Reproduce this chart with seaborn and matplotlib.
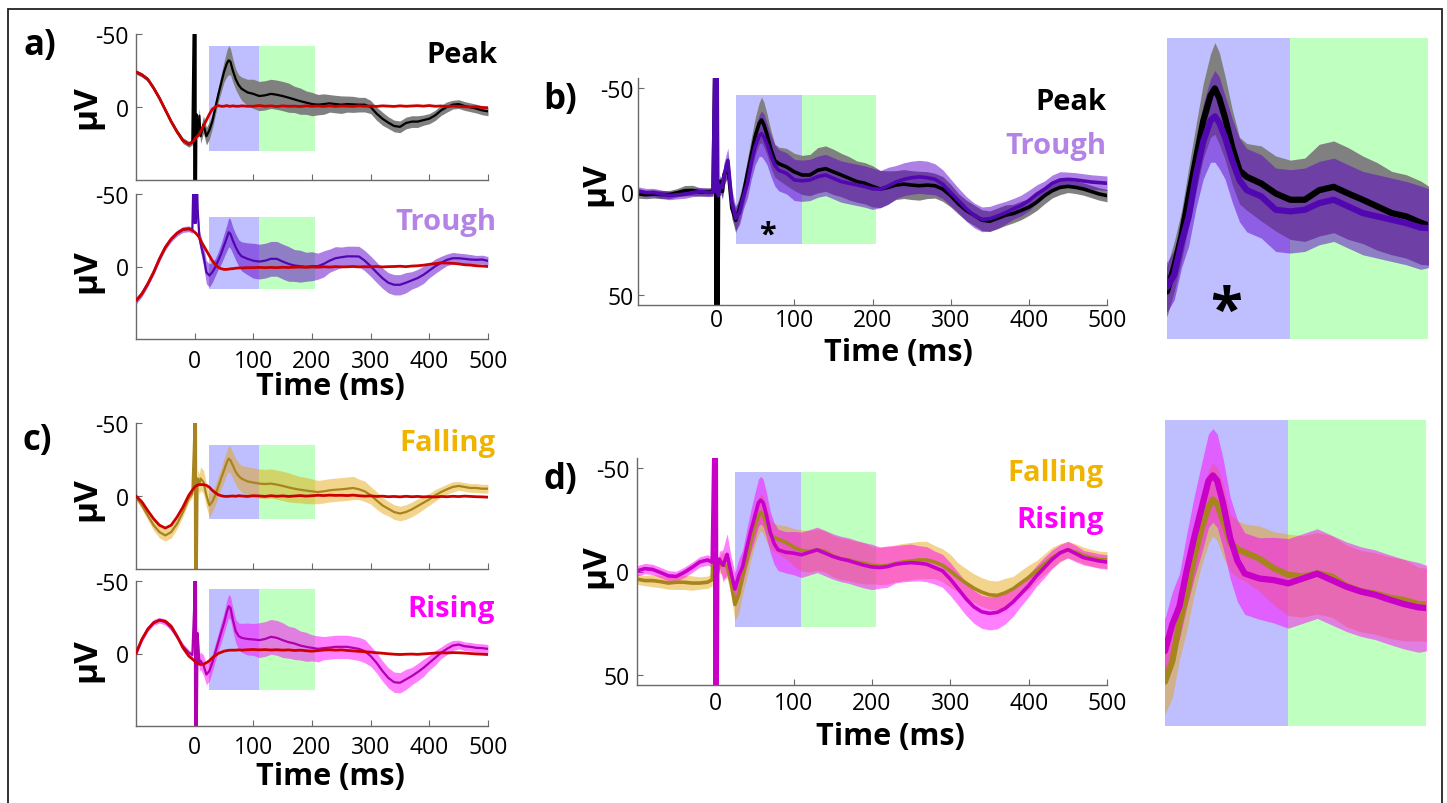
import numpy as np
import matplotlib
matplotlib.use("Agg")
import matplotlib.pyplot as plt
import seaborn as sns
from matplotlib.patches import Rectangle

# ---------------- data (µV; negative is up) ----------------
time_ms = [-100, -90, -80, -70, -60, -50, -40, -30, -20, -10,
           -4, -1, 0, 1, 2, 3, 5, 8, 10, 15,
           20, 25, 30, 35, 40, 45, 50, 55, 58, 61,
           65, 70, 75, 80, 90, 100, 110, 120, 130, 140,
           150, 160, 170, 180, 190, 200, 210, 220, 230, 240,
           250, 260, 270, 280, 290, 300, 310, 320, 330, 340,
           350, 360, 370, 380, 390, 400, 410, 420, 430, 440,
           450, 460, 470, 480, 490, 500]

# panel a (top): Peak-triggered average, its s.e.m., and phase-matched control (red)
peak_raw = [-24, -22, -19, -13, -6, 2, 10, 17, 23, 25.5,
            24, -80, 80, -80, 80, 5, 18, 6, 20, 12,
            20, 16, 10, 1, -8, -16, -24, -30, -32, -31,
            -25, -19, -15, -12.5, -10, -9, -7.5, -8, -9, -8.4,
            -7.5, -6.4, -5.2, -4, -3, -2, -1.6, -2, -2.5, -2,
            -1.6, -2, -1.8, -1.6, -1.6, 0, 4.5, 8, 10.7, 13,
            13.6, 11, 10, 10, 9, 8, 5.7, 2.3, 0, -1.6,
            -2, -0.7, 0.2, 1.1, 2.3, 3]
peak_raw_sem = [1.5, 1.5, 1.5, 1.5, 1.5, 1.5, 1.5, 1.8, 2, 2,
                2, 0, 0, 0, 0, 3, 4, 5, 5, 6,
                6, 6, 5, 5, 5, 6, 7, 9, 10, 9,
                8, 7, 7, 8, 9, 10, 10, 10, 10, 10,
                10, 10, 9, 9, 8, 8, 7, 7, 6, 6,
                6, 5.5, 5.5, 5, 5, 4.5, 4.5, 4.5, 4, 4,
                4, 4, 4, 4, 3.5, 3.5, 3.5, 3.5, 3.5, 3,
                3, 3, 3, 3, 3, 3]
peak_ctrl = [-24, -22, -19, -13, -6, 2, 10, 17, 23, 25.5,
             24, 23, 22, 21.5, 21, 20.5, 20, 18.5, 17, 13,
             9, 5, 1.5, 0, -1, -0.5, -0.5, -1, -0.5, -0.5,
             -0.8, -0.5, -0.5, -0.8, -0.5, -0.5, -1, -0.5, -0.8, -0.3,
             -0.8, -0.5, -0.6, -0.3, -0.8, -0.5, -0.7, -0.4, -0.8, -0.4,
             -0.7, -0.6, -0.4, -0.8, -0.5, -0.7, -0.4, -0.8, -0.6, -0.4,
             -0.8, -0.5, -0.7, -0.9, -0.6, -1, -0.5, -0.7, -0.3, -0.6,
             -0.4, -0.2, 0, -0.2, 0.3, 0.5]

# panel a (bottom): Trough
trough_raw = [24, 19, 12, 4, -5.3, -13.3, -19, -23, -25.5, -26,
              -25, -80, -30, -80, -30, -80, -40, -20, -16, -7.6,
              4, 6.2, 4, 0.5, -4, -8.7, -14.4, -20, -23.6, -22.5,
              -18, -13.3, -9.4, -7, -5.3, -4, -3.4, -4, -5.3, -5.3,
              -3.4, -1.8, -0.7, -0.2, 0.2, -0.2, -0.2, -1.8, -4, -5.7,
              -6.4, -7, -7, -6.9, -4, -0.2, 4, 8, 11.2, 12.6,
              12.6, 11.2, 9.6, 8, 5.7, 2.8, -0.2, -2.5, -4.6, -5.7,
              -5.7, -5.3, -4.8, -4.6, -4.8, -3.9]
trough_raw_sem = [2, 2, 2, 2, 2, 2, 2, 2, 2, 2,
                  2, 0, 0, 0, 0, 0, 4, 5, 6, 7,
                  8, 8, 7, 6, 6, 7, 8, 9, 10, 10,
                  9, 9, 9, 10, 11, 12, 12, 12, 12, 12,
                  12, 12, 11, 11, 10, 10, 9, 9, 8, 8,
                  7, 7, 7, 7, 7, 7, 7, 7, 7, 7,
                  7, 7, 6, 6, 6, 5, 5, 4.5, 4, 4,
                  3.5, 3.5, 3.5, 3, 3, 3]
trough_ctrl = [23.4, 18.8, 12, 4, -5.3, -13.3, -19, -23, -25.5, -26,
               -25, -24, -23.6, -23.3, -23, -22.5, -21.5, -20, -18, -14.5,
               -11, -7.5, -4, -1.5, 0.5, 1.5, 2, 2, 1.8, 1.6,
               1.5, 1.2, 1, 1, 0.8, 0.8, 0.6, 0.8, 0.6, 0.8,
               0.5, 0.7, 0.5, 0.4, 0.6, 0.3, 0.5, 0.2, 0.4, 0.1,
               0.3, 0.2, 0, 0.3, 0.1, 0.2, 0, 0.3, 0.1, 0,
               -0.2, 0.1, -0.3, -0.5, -0.9, -1.5, -2, -2.5, -2.4, -2.2,
               -1.8, -1.2, -1, -0.5, -0.3, 0]

# panel c (top): Falling
falling_raw = [0.7, 6.4, 13.3, 20, 24.7, 27, 24.7, 19, 11, 1.8,
               -1.5, -38, -80, 80, -80, 80, -12, -8, -12, -9.6,
               -0.5, 6.4, 4, -0.5, -6.2, -12, -17.6, -23.3, -25.6, -24.5,
               -21, -16.5, -13.7, -11.9, -10, -9.2, -8.5, -8.2, -8.5, -7.8,
               -6.9, -5.9, -5, -4.3, -3.7, -3.2, -2.7, -3.2, -3.9, -4.3,
               -4.6, -5, -5.5, -4.6, -3.2, -0.5, 3, 6.4, 8.7, 11,
               12, 11, 9.2, 6.9, 4.6, 2.3, -0.5, -2.7, -4.6, -6.2,
               -6.9, -6.2, -5.5, -5.5, -5, -5]
falling_raw_sem = [2, 2.5, 3, 3.5, 4, 4, 4, 3.5, 3, 2.5,
                   2.5, 0, 0, 0, 0, 0, 6, 7, 8, 8,
                   8, 8, 7, 7, 7, 7, 8, 8, 9, 9,
                   9, 9, 9, 9, 10, 10, 10, 10, 10, 10,
                   10, 10, 9.5, 9, 9, 8.5, 8, 8, 8, 8,
                   8, 8, 8, 7, 7, 6, 6, 5.5, 5, 5,
                   5, 5, 5, 5, 4.5, 4, 4, 3.5, 3.5, 3.5,
                   3, 3, 3, 3, 3, 3]
falling_ctrl = [0, 4, 10, 15.6, 20, 22, 20, 14.4, 7.6, -0.5,
                -4, -5.5, -6.2, -6.5, -6.8, -7, -7.5, -7.8, -7.8, -7.8,
                -7.3, -6, -3.9, -2.3, -0.9, -0.2, 0.2, 0.3, 0.2, 0.1,
                0, 0.2, -0.2, 0, 0.3, -0.2, 0, 0.3, -0.2, 0.2,
                -0.1, 0.3, 0, -0.3, 0.1, -0.2, -0.5, -0.3, -0.6, -0.4,
                -0.5, -0.3, -0.6, -0.2, 0.1, -0.1, 0.3, 0.1, 0.5, 0.3,
                0.6, 0.2, 0.5, 0.3, 0.6, 0.4, 0.7, 0.3, 0.5, 0.2,
                0.4, 0.1, 0.3, 0.5, 0.6, 0.8]

# panel c (bottom): Rising
rising_raw = [0, -9.7, -17, -21.5, -23, -21.6, -17.7, -11.5, -5, -0.5,
              1, -30, -80, 80, -80, 80, -14, 6.4, 5, 8,
              14.5, 12, 6.4, -0.5, -7.4, -14.3, -21, -29, -32.6, -31.5,
              -23.4, -15.4, -12, -10.8, -10, -9.7, -9.2, -10, -11.5, -10.8,
              -9.2, -7.8, -6.9, -5.5, -4.6, -3.9, -3.2, -3.7, -4.1, -4.6,
              -4.6, -4.6, -3.9, -3.2, -1.6, 1.8, 6.4, 12, 16.8, 19.8,
              20.2, 17.9, 15.6, 12.9, 9.9, 6.4, 3, -0.5, -3.2, -5.5,
              -6.2, -5, -4.6, -3.9, -3.7, -3.2]
rising_raw_sem = [2, 2, 2, 2, 2, 2, 2, 2, 2, 2,
                  2, 0, 0, 0, 0, 0, 5, 6, 6, 7,
                  7, 7, 6, 6, 6, 7, 7, 8, 8, 8,
                  8, 8, 9, 10, 11, 11, 12, 12, 12, 12,
                  12, 11, 11, 10, 10, 9, 9, 8, 8, 8,
                  8, 8, 8, 8, 8, 7, 7, 7, 7, 7,
                  7, 7, 6, 6, 6, 5, 5, 4, 4, 3.5,
                  3, 3, 3, 3, 3, 3]
rising_ctrl = [0, -9.7, -16.6, -21, -23, -22.3, -18.9, -12, -3.9, 1.8,
               3.8, 4.8, 5.3, 5.6, 5.9, 6.2, 6.8, 7.4, 7.6, 7.4,
               6.4, 5, 3, 1.5, 0, -0.8, -1.6, -2, -2.2, -2.3,
               -2.3, -2.3, -2.5, -2.3, -2.6, -2.8, -2.5, -2.7, -2.4, -2.6,
               -2.3, -2.5, -2.1, -2.3, -1.9, -1.6, -2, -2.4, -2.6, -2.3,
               -2.5, -2.1, -1.8, -1.5, -1.2, -0.9, -0.5, -0.2, 0.2, 0.5,
               0.7, 0.5, 0.4, 0.6, 0.3, 0, -0.3, -0.5, -0.4, -0.6,
               -0.5, -0.3, 0, 0.3, 0.5, 0.7]

# panel b: control-corrected Peak and Trough
peak_corr = [1.2, 1.5, 1.2, 1.5, 1.5, 0.6, -0.4, -0.5, 0.3, 0.2,
             0, -80, 80, -80, 80, 2, -5, 0, -8, -12,
             8, 14, 8, 0.7, -8.8, -18, -26.9, -33, -34.7, -32.4,
             -27.7, -20.6, -15, -13.5, -11.9, -9.5, -8, -8, -10.3, -11.1,
             -9.5, -8, -6.4, -4.8, -4, -2.5, -1.2, -2, -3.1, -3.6,
             -3.1, -2.8, -3.1, -2.8, -1.2, 2, 6, 9.2, 11.5, 13.9,
             14.4, 13, 11.5, 10.7, 9.2, 7.6, 5.2, 2, -0.4, -2,
             -2.5, -2, -1.2, 0, 1.2, 2]
peak_corr_sem = [2, 2, 2, 2, 2, 2, 2.5, 2.5, 2, 2,
                 2, 0, 0, 0, 0, 0, 3, 4, 5, 5,
                 5, 6, 6, 6, 7, 8, 9, 10, 11, 11,
                 10, 9, 8, 8, 9, 9, 9.5, 10, 11, 11,
                 11, 10.5, 10.5, 10, 10, 10, 9, 8, 7, 7,
                 7, 7, 6.5, 6, 6, 5.5, 5, 5, 5, 5,
                 5, 5, 5, 4.5, 4.5, 4, 4, 4, 3.5, 3.5,
                 3, 3, 3, 3, 3, 3]
trough_corr = [-0.3, 0.5, 0.5, 1.3, 2, 1.6, 1.3, 0.5, 0, 0.5,
               0.3, -80, 0, -80, 0, 2, -3, -2, -8, -15,
               5, 13, 10, 2.3, -4, -14, -22, -27, -28, -26.5,
               -23, -17.4, -12.7, -10.3, -8.8, -5.6, -5.2, -5.6, -7.2, -8,
               -6.4, -4.8, -4, -3.2, -2.4, -1.3, -1.1, -2.7, -4.6, -5.9,
               -6.7, -7.1, -6.7, -5.9, -3.5, 0.5, 4.4, 8.4, 11.6, 13.5,
               13.2, 11.9, 10.3, 8.4, 6.8, 4.4, 1.3, -1.1, -4, -5.6,
               -5.9, -5.6, -5.1, -4.6, -4.3, -4]
trough_corr_sem = [2, 2, 2, 2, 2, 2, 2, 2, 2, 2,
                   2, 0, 0, 0, 0, 0, 4, 5, 6, 6,
                   6, 6, 6, 6, 7, 8, 9, 10, 11, 11,
                   10, 10, 10, 10, 10, 10, 10, 10, 10, 10,
                   10, 10, 10, 10, 10, 10, 9, 9, 8, 8,
                   8, 8, 8, 7.5, 7, 6.5, 6, 6, 6, 6,
                   6, 6, 5.5, 5, 5, 5, 4.5, 4, 4, 4,
                   3.5, 3.5, 3.5, 3.5, 3.5, 3.5]

# panel d: control-corrected Falling and Rising
falling_corr = [3.7, 4.4, 4.4, 4.9, 5.6, 5.2, 5.2, 5.6, 5.6, 5.2,
                4, -38, 80, -5, 0, 0, -3, -4, -3, -2.7,
                5.2, 16, 11, 1.6, -5.5, -14.2, -21.3, -26.8, -28.7, -27.6,
                -23.6, -18.1, -16.5, -15.7, -14.2, -11.8, -10.2, -9.8, -10.6, -9.8,
                -7.5, -6.2, -5.6, -4.6, -4, -3, -2.7, -2.9, -4, -4.6,
                -5.1, -5.6, -5.6, -4.6, -3, -0.3, 2.9, 5.6, 8.1, 10,
                11.3, 11.6, 10.3, 8.4, 5.6, 2.9, -0.3, -3.5, -6.7, -9,
                -10.6, -9.4, -7.8, -6.7, -5.9, -5.6]
falling_corr_sem = [2.5, 2.5, 3, 3, 3, 3.5, 3.5, 3.5, 3, 3,
                    3, 0, 0, 0, 0, 0, 4, 5, 6, 6,
                    6, 8, 9, 9, 9, 9, 9, 9, 9, 9,
                    9, 7, 7, 7, 8, 9, 10, 10, 10, 10,
                    10, 10, 10, 10, 10, 9, 9, 9, 9, 9,
                    9, 9, 9, 8, 8, 8, 7, 7, 7, 7,
                    7, 7, 7, 6, 6, 6, 5, 5, 5, 4.5,
                    4, 4, 4, 4, 4, 4]
rising_corr = [-0.3, -1.4, -1, 0.5, 2.1, 2.4, 0.5, -1.9, -4.6, -5.6,
               -4.5, -80, 80, -80, 80, -3, -6, -4, -3, -8.3,
               0.5, 8.5, 2, -2.5, -11.3, -19.2, -26.2, -33.3, -34.6, -33.3,
               -27.8, -19.2, -13.6, -10.5, -9.3, -8.9, -8.1, -9.3, -10.5, -8.9,
               -7.3, -6.1, -5.3, -4.1, -3, -2.2, -1.9, -2.4, -3.5, -4,
               -4.3, -4, -3.5, -1.9, -0.3, 3.7, 8.4, 13.2, 17.1, 19.5,
               20.3, 19.8, 17.9, 14.8, 10.8, 6.8, 2.1, -1.9, -5.9, -9,
               -10.6, -8.7, -6.7, -5.9, -5.1, -4.6]
rising_corr_sem = [2.5, 2.5, 2.5, 2.5, 2.5, 2.5, 2.5, 2.5, 2.5, 2.5,
                   2.5, 0, 0, 0, 0, 0, 4, 6, 8, 10,
                   8, 8, 8, 8, 9, 10, 11, 11.5, 11.5, 11.5,
                   11, 10, 10, 10, 10, 10.5, 11, 11, 11, 11,
                   11, 11, 11, 11, 11, 11, 10, 10, 9, 9,
                   9, 8.5, 8.5, 8, 8, 8, 8, 8, 8, 8,
                   8, 8, 7.5, 7, 6, 5.5, 5, 5, 4.5, 4,
                   4, 4, 3.5, 3.5, 3.5, 3.5]

# analysis windows (ms) and the vertical extent of the shaded boxes in each panel (µV)
early_window = [25, 110]
late_window = [110, 205]
box_a_top = [-42, 30]
box_a_bottom = [-34, 15.5]
box_c_top = [-35, 16]
box_c_bottom = [-44.5, 25]
box_b = [-46.8, 25.4]
box_d = [-48.2, 26.9]

x_ticks = [0, 100, 200, 300, 400, 500]
x_ticklabels = ["0", "100", "200", "300", "400", "500"]

# ---------------- style ----------------
sns.set_theme(style="white")
plt.rcParams["font.family"] = ["Open Sans", "DejaVu Sans"]
plt.rcParams["axes.unicode_minus"] = False

BLUE_WIN, GREEN_WIN = "#bfbfff", "#bfffbf"
RED = "#cc0000"
SPINE = "#6a6a6a"
TICK_FS = 16.5
XLAB_FS = 22
YLAB_FS = 24
TITLE_FS = 21

W, H = 1447, 804
fig = plt.figure(figsize=(W / 100, H / 100), dpi=100)
t = np.array(time_ms, dtype=float)


def axes_px(x0, y0, x1, y1):
    return fig.add_axes([x0 / W, 1 - y1 / H, (x1 - x0) / W, (y1 - y0) / H])


def windows(ax, box):
    ax.fill_between(early_window, box[0], box[1], color=BLUE_WIN, lw=0, zorder=0.5)
    ax.fill_between(late_window, box[0], box[1], color=GREEN_WIN, lw=0, zorder=0.5)


def trace(ax, mean, sem, line_color, band_color, band_alpha, lw):
    m = np.array(mean, dtype=float)
    s = np.array(sem, dtype=float)
    ax.fill_between(t, m - s, m + s, color=band_color, alpha=band_alpha, lw=0, zorder=1)
    sns.lineplot(x=t, y=m, ax=ax, color=line_color, linewidth=lw, estimator=None,
                 sort=False, legend=False, zorder=2)


def control(ax, vals):
    sns.lineplot(x=t, y=np.array(vals, dtype=float), ax=ax, color=RED, linewidth=2.0,
                 estimator=None, sort=False, legend=False, zorder=3)


def style(ax, lim, yticks, xlabels, xpad, ypad, ylab_xy, xlab_xy=None):
    ax.set_xlim(-100, 500)
    ax.set_ylim(lim, -lim)
    ax.set_xticks(x_ticks)
    ax.set_yticks(yticks)
    ax.set_yticklabels([str(v) for v in yticks])
    if xlabels:
        ax.set_xticklabels(x_ticklabels)
    else:
        ax.set_xticklabels([])
    for s in ["top", "right"]:
        ax.spines[s].set_visible(False)
    for s in ["left", "bottom"]:
        ax.spines[s].set_color(SPINE)
        ax.spines[s].set_linewidth(1.0)
    ax.tick_params(axis="both", direction="in", length=4, width=0.8, colors=SPINE,
                   labelcolor="black", labelsize=TICK_FS)
    ax.tick_params(axis="x", pad=xpad, bottom=True)
    ax.tick_params(axis="y", pad=ypad, left=True)
    ax.set_ylabel("µV", fontsize=YLAB_FS, fontweight="bold", color="black")
    ax.yaxis.label.set_va("center")
    ax.yaxis.set_label_coords(*ylab_xy)
    if xlab_xy is not None:
        ax.set_xlabel("Time (ms)", fontsize=XLAB_FS, fontweight="bold", color="black")
        ax.xaxis.label.set_va("center")
        ax.xaxis.set_label_coords(*xlab_xy)
    else:
        ax.set_xlabel("")
    ax.set_facecolor("none")


def inset_style(ax, box):
    ax.set_xlim(early_window[0], late_window[1])
    ax.set_ylim(box[1], box[0])
    ax.set_xticks([])
    ax.set_yticks([])
    for s in ax.spines.values():
        s.set_visible(False)
    ax.set_xlabel("")
    ax.set_ylabel("")
    ax.set_facecolor("none")


PEAK_LINE, PEAK_BAND = "#000000", "#808080"
TROUGH_LINE, TROUGH_BAND = "#5208b0", "#5e00cb"
FALL_LINE, FALL_BAND = "#a8841e", "#e6a000"
RISE_LINE, RISE_BAND = "#b000b0", "#ff00ff"
RISE_LINE_D = "#c800c8"

# ---- panel a ----
ax = axes_px(136, 35, 488, 181)
windows(ax, box_a_top)
trace(ax, peak_raw, peak_raw_sem, PEAK_LINE, PEAK_BAND, 1.0, 1.6)
control(ax, peak_ctrl)
style(ax, 50, [-50, 0], False, 7, 5, (-0.14, 0.507))

ax = axes_px(136, 195, 488, 340)
windows(ax, box_a_bottom)
trace(ax, trough_raw, trough_raw_sem, TROUGH_LINE, TROUGH_BAND, 0.5, 1.6)
control(ax, trough_ctrl)
style(ax, 50, [-50, 0], True, 7.5, 5, (-0.14, 0.476), (0.551, -0.325))

# ---- panel c ----
ax = axes_px(136, 424, 488, 570)
windows(ax, box_c_top)
trace(ax, falling_raw, falling_raw_sem, FALL_LINE, FALL_BAND, 0.45, 1.6)
control(ax, falling_ctrl)
style(ax, 50, [-50, 0], False, 7, 5, (-0.14, 0.486))

ax = axes_px(136, 582, 488, 727)
windows(ax, box_c_bottom)
trace(ax, rising_raw, rising_raw_sem, RISE_LINE, RISE_BAND, 0.5, 1.6)
control(ax, rising_ctrl)
style(ax, 50, [-50, 0], True, 6.5, 5, (-0.14, 0.462), (0.551, -0.348))

# ---- panel b ----
ax = axes_px(638, 79, 1107, 306)
windows(ax, box_b)
trace(ax, peak_corr, peak_corr_sem, PEAK_LINE, PEAK_BAND, 1.0, 2.6)
trace(ax, trough_corr, trough_corr_sem, TROUGH_LINE, TROUGH_BAND, 0.5, 2.6)
ax.text(66, 24.7, "*", ha="center", va="baseline", fontsize=22, fontweight="bold", color="black")
style(ax, 55, [-50, 0, 50], True, 2, 3, (-0.0896, 0.537), (0.556, -0.207))

axi = axes_px(1167, 39, 1428, 340)
windows(axi, box_b)
trace(axi, peak_corr, peak_corr_sem, PEAK_LINE, PEAK_BAND, 1.0, 4.5)
trace(axi, trough_corr, trough_corr_sem, TROUGH_LINE, TROUGH_BAND, 0.5, 4.5)
axi.text(66, 22.7, "*", ha="center", va="baseline", fontsize=42, fontweight="bold", color="black")
inset_style(axi, box_b)

# ---- panel d ----
ax = axes_px(637, 459, 1107, 686)
windows(ax, box_d)
trace(ax, falling_corr, falling_corr_sem, FALL_LINE, FALL_BAND, 0.45, 2.6)
trace(ax, rising_corr, rising_corr_sem, RISE_LINE_D, RISE_BAND, 0.5, 2.6)
style(ax, 55, [-50, 0, 50], True, 4, 5.5, (-0.087, 0.529), (0.54, -0.226))

axi = axes_px(1165, 421, 1426, 727)
windows(axi, box_d)
trace(axi, falling_corr, falling_corr_sem, FALL_LINE, FALL_BAND, 0.45, 4.5)
trace(axi, rising_corr, rising_corr_sem, RISE_LINE_D, RISE_BAND, 0.5, 4.5)
inset_style(axi, box_d)

# ---- texts ----
def ftext(x, y, s, color, size=TITLE_FS, ha="right", va="baseline"):
    fig.text(x / W, 1 - y / H, s, color=color, fontsize=size, fontweight="bold", ha=ha, va=va)


ftext(497, 63, "Peak", "black")
ftext(497, 230, "Trough", "#b383e6")
ftext(495, 451, "Falling", "#f0b400")
ftext(495, 617, "Rising", "#ff00ff")
ftext(1106, 110, "Peak", "black")
ftext(1106, 154, "Trough", "#b383e6")
ftext(1104, 481, "Falling", "#f0b400")
ftext(1104, 528, "Rising", "#ff00ff")

for lab, x, y in [("a)", 40, 46), ("b)", 560, 100), ("c)", 37, 441), ("d)", 560, 480)]:
    ftext(x, y, lab, "black", size=25, ha="center", va="center")

fig.add_artist(Rectangle((8 / W, -0.02), (1442 - 8) / W, 1.02 - 10 / H,
                         transform=fig.transFigure, fill=False, lw=1.3, ec="#222222"))

fig.savefig("out.png", dpi=100, facecolor="white")
